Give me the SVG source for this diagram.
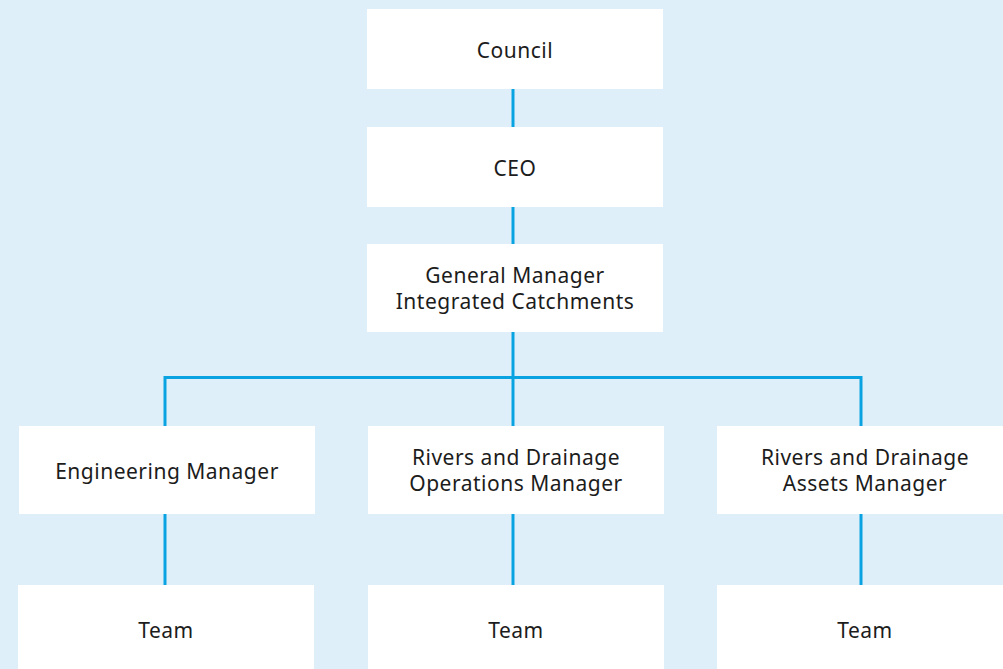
<svg xmlns="http://www.w3.org/2000/svg" width="1003" height="669" viewBox="0 0 1003 669">
  <style>
    .box { fill: #ffffff; }
    .lbl { font-family: "Noto Sans", "Liberation Sans", sans-serif; font-size: 21px; letter-spacing: 0.5px; fill: #1c1c1c; text-anchor: middle; }
    .link { stroke: #0aa3e2; stroke-width: 3; fill: none; }
  </style>
  <rect width="1003" height="669" fill="#dfeff9"/>

  <!-- reporting lines -->
  <g id="connectors">
    <line class="link" x1="513" y1="89" x2="513" y2="127"/>
    <line class="link" x1="513" y1="207" x2="513" y2="244"/>
    <line class="link" x1="513" y1="332" x2="513" y2="426"/>
    <polyline class="link" points="165,426 165,377.5 861,377.5 861,426"/>
    <line class="link" x1="165" y1="514" x2="165" y2="585"/>
    <line class="link" x1="513" y1="514" x2="513" y2="585"/>
    <line class="link" x1="861" y1="514" x2="861" y2="585"/>
  </g>

  <g id="council">
    <rect class="box" x="367" y="9" width="296" height="80"/>
    <text class="lbl" x="515" y="58">Council</text>
  </g>
  <g id="ceo">
    <rect class="box" x="367" y="127" width="296" height="80"/>
    <text class="lbl" x="515" y="176">CEO</text>
  </g>
  <g id="gm">
    <rect class="box" x="367" y="244" width="296" height="88"/>
    <text class="lbl" x="515" y="283">General Manager</text>
    <text class="lbl" x="515" y="309">Integrated Catchments</text>
  </g>
  <g id="engineering">
    <rect class="box" x="19" y="426" width="296" height="88"/>
    <text class="lbl" x="167" y="479">Engineering Manager</text>
  </g>
  <g id="operations">
    <rect class="box" x="368" y="426" width="296" height="88"/>
    <text class="lbl" x="516" y="465">Rivers and Drainage</text>
    <text class="lbl" x="516" y="491">Operations Manager</text>
  </g>
  <g id="assets">
    <rect class="box" x="717" y="426" width="296" height="88"/>
    <text class="lbl" x="865" y="465">Rivers and Drainage</text>
    <text class="lbl" x="865" y="491">Assets Manager</text>
  </g>
  <g id="team-engineering">
    <rect class="box" x="18" y="585" width="296" height="90"/>
    <text class="lbl" x="166" y="638">Team</text>
  </g>
  <g id="team-operations">
    <rect class="box" x="368" y="585" width="296" height="90"/>
    <text class="lbl" x="516" y="638">Team</text>
  </g>
  <g id="team-assets">
    <rect class="box" x="717" y="585" width="296" height="90"/>
    <text class="lbl" x="865" y="638">Team</text>
  </g>
</svg>
